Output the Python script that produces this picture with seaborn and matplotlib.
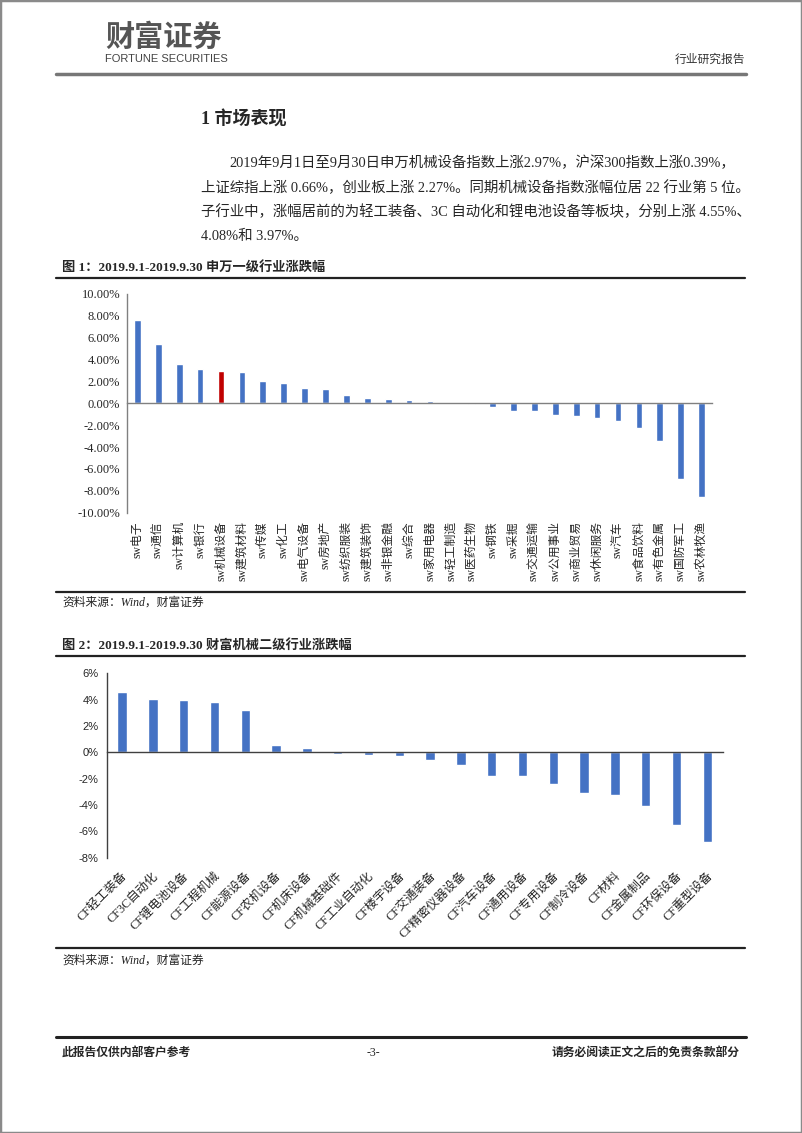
import numpy as np
import matplotlib
matplotlib.use("Agg")
import matplotlib.pyplot as plt
import matplotlib.transforms as mtransforms
from matplotlib.lines import Line2D
from matplotlib.patches import Rectangle
import seaborn as sns

# 图1 申万一级行业
sw_names = ["sw电子", "sw通信", "sw计算机", "sw银行", "sw机械设备", "sw建筑材料", "sw传媒",
            "sw化工", "sw电气设备", "sw房地产", "sw纺织服装", "sw建筑装饰", "sw非银金融", "sw综合",
            "sw家用电器", "sw轻工制造", "sw医药生物", "sw钢铁", "sw采掘", "sw交通运输", "sw公用事业",
            "sw商业贸易", "sw休闲服务", "sw汽车", "sw食品饮料", "sw有色金属", "sw国防军工", "sw农林牧渔"]
sw_values = [7.63, 5.47, 3.60, 3.15, 2.97, 2.87, 2.05,
             1.83, 1.44, 1.28, 0.73, 0.49, 0.43, 0.27,
             0.20, 0.05, -0.05, -0.30, -0.67, -0.70, -1.10,
             -1.19, -1.37, -1.59, -2.26, -3.48, -6.93, -8.52]
sw_ticks = [10, 8, 6, 4, 2, 0, -2, -4, -6, -8, -10]

# 图2 财富机械二级行业
cf_names = ["CF轻工装备", "CF3C自动化", "CF锂电池设备", "CF工程机械", "CF能源设备", "CF农机设备",
            "CF机床设备", "CF机械基础件", "CF工业自动化", "CF楼宇设备", "CF交通装备", "CF精密仪器设备",
            "CF汽车设备", "CF通用设备", "CF专用设备", "CF制冷设备", "CF材料", "CF金属制品",
            "CF环保设备", "CF重型设备"]
cf_values = [4.55, 4.08, 3.97, 3.85, 3.19, 0.53,
             0.33, -0.13, -0.18, -0.28, -0.61, -0.96,
             -1.77, -1.80, -2.38, -3.09, -3.22, -4.05,
             -5.49, -6.81]
cf_ticks = [6, 4, 2, 0, -2, -4, -6, -8]

BLUE = "#4472C4"
RED = "#C00000"
W, H = 802, 1133

sns.set_style("white")
SERIF = ["Liberation Serif", "Noto Sans CJK SC"]
SANS = ["Liberation Sans", "Noto Sans CJK SC"]
plt.rcParams["font.family"] = SERIF
plt.rcParams["axes.unicode_minus"] = False

fig = plt.figure(figsize=(8.02, 11.33), dpi=100)


def ftext(x, y, s, **kw):
    fig.text(x / W, 1 - y / H, s, **kw)


def hline(x0, x1, y, color="#222222", lw=1.6):
    fig.add_artist(Line2D([x0 / W, x1 / W], [1 - y / H, 1 - y / H],
                          transform=fig.transFigure, color=color, lw=lw))


def axes_px(left, top, right, bottom):
    return fig.add_axes([left / W, 1 - bottom / H, (right - left) / W, (bottom - top) / H])


# page frame
fig.add_artist(Rectangle((0, 0), 1, 1, transform=fig.transFigure, fill=False,
                         edgecolor="#8a8a8a", lw=2.5))

# header
ftext(105, 37, "财富证券", fontsize=21, color="#555555", fontweight="bold", va="center",
      family=["Noto Sans CJK SC"])
ftext(105, 59, "FORTUNE SECURITIES", fontsize=8, color="#444444", va="center",
      family=["Liberation Sans Narrow", "Liberation Sans"])
ftext(745, 60, "行业研究报告", fontsize=8.5, color="#333333", va="center", ha="right")
hline(56, 746, 74, color="#777777", lw=2.5)

# section text
ftext(201, 120, "1 市场表现", fontsize=13, fontweight="bold", va="center")
para = ["2019年9月1日至9月30日申万机械设备指数上涨2.97%，沪深300指数上涨0.39%，",
        "上证综指上涨 0.66%，创业板上涨 2.27%。同期机械设备指数涨幅位居 22 行业第 5 位。",
        "子行业中，涨幅居前的为轻工装备、3C 自动化和锂电池设备等板块，分别上涨 4.55%、",
        "4.08%和 3.97%。"]
para_y = [163, 188, 212, 236]
for i, (line, y) in enumerate(zip(para, para_y)):
    ftext(229 if i == 0 else 201, y, line, fontsize=10.4, va="center")

# ---------- chart 1 ----------
ftext(62, 267, "图 1：2019.9.1-2019.9.30 申万一级行业涨跌幅", fontsize=9.5,
      fontweight="bold", va="center")
hline(56, 745, 278)

ax1 = axes_px(127, 294, 712, 512.7)
colors1 = [RED if n == "sw机械设备" else BLUE for n in sw_names]
sns.barplot(x=sw_names, y=sw_values, hue=sw_names, palette=colors1, width=0.32,
            legend=False, ax=ax1, saturation=1)
ax1.set_xlim(-0.5, len(sw_names) - 0.5)
ax1.set_ylim(-10, 10)
ax1.set_yticks(sw_ticks)
ax1.set_yticklabels([f"{t:.2f}%" for t in sw_ticks], fontsize=9)
ax1.set_xticks(np.arange(-0.5, len(sw_names), 1))
ax1.set_xticklabels([])
for s in ["top", "right"]:
    ax1.spines[s].set_visible(False)
ax1.spines["bottom"].set_position(("data", 0))
for s in ["left", "bottom"]:
    ax1.spines[s].set_color("#808080")
    ax1.spines[s].set_linewidth(1)
ax1.tick_params(axis="both", direction="out", length=3, width=1, color="#808080", pad=2)
ax1.set_xlabel("")
ax1.set_ylabel("")
tr1 = mtransforms.blended_transform_factory(ax1.transData, ax1.transAxes)
for i, n in enumerate(sw_names):
    ax1.text(i, -0.038, n, rotation=90, ha="center", va="top", fontsize=8.5,
             transform=tr1)

hline(56, 745, 592)
ftext(62, 603, "资料来源：Wind，财富证券", fontsize=8.5, style="italic", va="center",
      color="#222222")

# ---------- chart 2 ----------
ftext(62, 645, "图 2：2019.9.1-2019.9.30 财富机械二级行业涨跌幅", fontsize=9.5,
      fontweight="bold", va="center")
hline(56, 745, 656)

ax2 = axes_px(106.7, 673.3, 722.7, 857.7)
sns.barplot(x=cf_names, y=cf_values, color=BLUE, width=0.31, ax=ax2, saturation=1)
ax2.set_xlim(-0.5, len(cf_names) - 0.5)
ax2.set_ylim(-8, 6)
ax2.set_yticks(cf_ticks)
ax2.set_yticklabels([f"{t}%" for t in cf_ticks], fontsize=8, family=SANS)
ax2.set_xticks(np.arange(-0.5, len(cf_names), 1))
ax2.set_xticklabels([])
for s in ["top", "right"]:
    ax2.spines[s].set_visible(False)
ax2.spines["bottom"].set_position(("data", 0))
for s in ["left", "bottom"]:
    ax2.spines[s].set_color("#404040")
    ax2.spines[s].set_linewidth(1)
ax2.tick_params(axis="both", direction="out", length=3, width=1, color="#404040", pad=3)
ax2.set_xlabel("")
ax2.set_ylabel("")
tr2 = mtransforms.blended_transform_factory(ax2.transData, ax2.transAxes)
for i, n in enumerate(cf_names):
    ax2.text(i - 0.03, -0.065, n, rotation=45, ha="right", va="top", fontsize=8.8,
             rotation_mode="anchor", transform=tr2)

hline(56, 745, 948)
ftext(62, 961, "资料来源：Wind，财富证券", fontsize=8.5, style="italic", va="center",
      color="#222222")

# footer
hline(56, 746, 1037, lw=2.2)
ftext(62, 1053, "此报告仅供内部客户参考", fontsize=8.5, fontweight="bold", va="center")
ftext(373, 1053, "-3-", fontsize=8.5, va="center", ha="center")
ftext(740, 1053, "请务必阅读正文之后的免责条款部分", fontsize=8.5, fontweight="bold",
      va="center", ha="right")

fig.savefig("out.png", dpi=100)
